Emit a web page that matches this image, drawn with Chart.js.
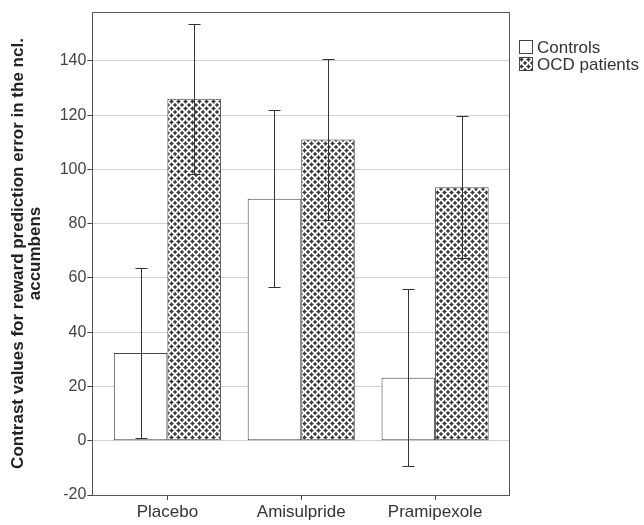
<!DOCTYPE html>
<html>
<head>
<meta charset="utf-8">
<script src="https://cdn.jsdelivr.net/npm/chart.js@4/dist/chart.umd.min.js"></script>
<style>
  html, body { margin: 0; padding: 0; background: #fff; }
  #wrap { width: 644px; height: 525px; position: relative; }
</style>
</head>
<body>
<div id="wrap"><canvas id="chart"></canvas></div>
<script>
// data
const conditions = ['Placebo', 'Amisulpride', 'Pramipexole'];
const groups = ['Controls', 'OCD patients'];
const controlsMean = [32.3, 89.2, 23.2];
const controlsErr = [31.2, 32.6, 32.6];
const ocdMean = [126.0, 111.0, 93.4];
const ocdErr = [27.6, 29.8, 26.2];
const yTicks = [-20, 0, 20, 40, 60, 80, 100, 120, 140];

// OCD hatch: dark dots on a diamond lattice, like the SPSS fill
function makeHatch() {
    const size = 14, p = 7;
    const c = document.createElement('canvas');
    c.width = size; c.height = size;
    const g = c.getContext('2d');
    const img = g.createImageData(size, size);
    const pts = [];
    for (let i = -1; i <= 2; i++) {
        for (let j = -1; j <= 2; j++) {
            pts.push([i * p, j * p]);
            pts.push([i * p + p / 2, j * p + p / 2]);
        }
    }
    for (let y = 0; y < size; y++) {
        for (let x = 0; x < size; x++) {
            let d = 99;
            pts.forEach(([lx, ly]) => {
                d = Math.min(d, Math.abs(x + 0.5 - lx) + Math.abs(y + 0.5 - ly));
            });
            let v = 255;
            if (d < 1.3) v = 60;
            else if (d < 2.2) v = 130;
            else if (d < 2.9) v = 200;
            const k = (y * size + x) * 4;
            img.data[k] = img.data[k + 1] = img.data[k + 2] = v;
            img.data[k + 3] = 255;
        }
    }
    g.putImageData(img, 0, 0);
    return g.createPattern(c, 'repeat');
}

const toPoints = arr => arr.map((v, i) => ({ x: i, y: v }));
const fam = 'Arial, "Liberation Sans", sans-serif';

// error bars, plot frame and the small legend to the right of the frame
const extras = {
    id: 'extras',
    afterDatasetsDraw(chart) {
        const ctx = chart.ctx;
        const ys = chart.scales.y;
        const errs = [controlsErr, ocdErr];
        ctx.save();
        ctx.strokeStyle = '#333';
        ctx.lineWidth = 1;
        chart.data.datasets.forEach((ds, di) => {
            chart.getDatasetMeta(di).data.forEach((bar, i) => {
                const x = Math.round(bar.x) + 0.5;
                const m = ds.data[i].y;
                const top = Math.round(ys.getPixelForValue(m + errs[di][i])) + 0.5;
                const bot = Math.round(ys.getPixelForValue(m - errs[di][i])) + 0.5;
                ctx.beginPath();
                ctx.moveTo(x, top); ctx.lineTo(x, bot);
                ctx.moveTo(x - 6, top); ctx.lineTo(x + 6, top);
                ctx.moveTo(x - 6, bot); ctx.lineTo(x + 6, bot);
                ctx.stroke();
            });
        });
        const a = chart.chartArea;
        ctx.strokeStyle = '#555';
        ctx.strokeRect(Math.round(a.left) + 0.5, Math.round(a.top) + 0.5,
            Math.round(a.right - a.left), Math.round(a.bottom - a.top));

        // legend
        ctx.font = '17px ' + fam;
        ctx.textBaseline = 'middle';
        ctx.textAlign = 'left';
        chart.data.datasets.forEach((ds, di) => {
            const bx = Math.round(a.right) + 10, by = 40 + di * 17;
            ctx.fillStyle = ds.backgroundColor;
            ctx.fillRect(bx, by, 14, 14);
            ctx.strokeStyle = '#444';
            ctx.strokeRect(bx + 0.5, by + 0.5, 13, 13);
            ctx.fillStyle = '#333';
            ctx.fillText(ds.label, bx + 18, by + 8);
        });
        ctx.restore();
    }
};

new Chart(document.getElementById('chart'), {
    type: 'bar',
    data: {
        datasets: [{
            label: groups[0],
            data: toPoints(controlsMean),
            backgroundColor: '#ffffff',
            borderColor: '#444',
            borderWidth: 1,
            borderSkipped: false
        }, {
            label: groups[1],
            data: toPoints(ocdMean),
            backgroundColor: makeHatch(),
            borderColor: '#444',
            borderWidth: 1,
            borderSkipped: false
        }]
    },
    options: {
        responsive: true,
        maintainAspectRatio: false,
        animation: false,
        layout: { padding: { top: 12, right: 135, left: 9, bottom: 0 } },
        datasets: { bar: { categoryPercentage: 0.8, barPercentage: 1.0 } },
        plugins: {
            legend: { display: false },
            tooltip: { enabled: false }
        },
        scales: {
            x: {
                type: 'linear',
                offset: false,
                min: -0.56,
                max: 2.552,
                afterBuildTicks: s => { s.ticks = conditions.map((c, i) => ({ value: i })); },
                ticks: {
                    font: { family: fam, size: 17, lineHeight: 1.0 },
                    color: '#333',
                    padding: 4,
                    autoSkip: false,
                    maxRotation: 0,
                    callback: v => conditions[v]
                },
                grid: { display: true, offset: false, drawOnChartArea: false, color: '#444', tickLength: 5 },
                border: { color: '#555' }
            },
            y: {
                min: -20,
                max: 158,
                afterBuildTicks: s => { s.ticks = yTicks.map(v => ({ value: v })); },
                ticks: { font: { family: fam, size: 16 }, color: '#444', padding: 1 },
                grid: { color: '#d0d0d0', tickColor: '#444', tickLength: 5 },
                border: { color: '#555' },
                title: {
                    display: true,
                    text: ['Contrast values for reward prediction error in the ncl.', 'accumbens'],
                    font: { family: fam, size: 17, weight: 'bold', lineHeight: 1.05 },
                    color: '#222',
                    padding: { top: 0, bottom: 14 }
                }
            }
        }
    },
    plugins: [extras]
});
</script>
</body>
</html>
